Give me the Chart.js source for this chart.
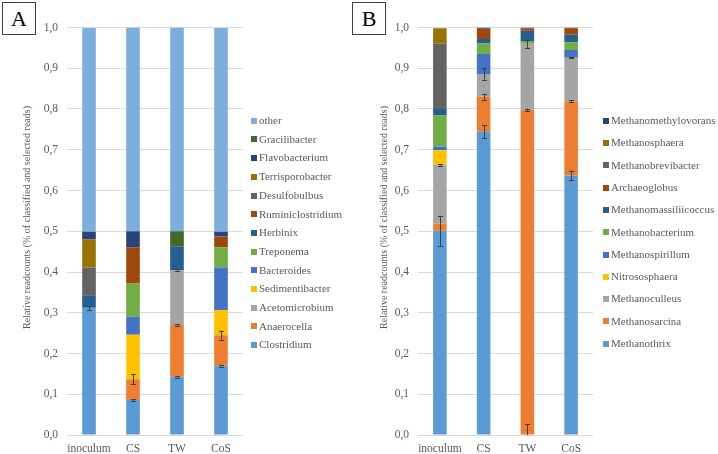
<!DOCTYPE html>
<html>
<head>
<meta charset="utf-8">
<script src="https://cdn.jsdelivr.net/npm/chart.js@4.4.1/dist/chart.umd.min.js"></script>
<style>
  html, body { margin:0; padding:0; background:#ffffff; }
  #wrap { position:relative; width:718px; height:454px; overflow:hidden; background:#fff; }
  canvas { position:absolute; top:0; }
  #cA { left:0; }
  #cB { left:359px; }
  .panel-label { position:absolute; top:2px; width:32px; height:31px; border:1px solid #404040;
    font-family:"Liberation Serif","Times New Roman",serif; font-size:22px; color:#000;
    text-align:center; line-height:32px; background:#fff; }
</style>
</head>
<body>
<div id="wrap">
  <canvas id="cA" width="359" height="454"></canvas>
  <canvas id="cB" width="359" height="454"></canvas>
  <div class="panel-label" style="left:2px;">A</div>
  <div class="panel-label" style="left:352px;">B</div>
</div>
<script>
// ---------- shared data ----------
const categories = ['inoculum', 'CS', 'TW', 'CoS'];
const yTickLabels = ['0,0','0,1','0,2','0,3','0,4','0,5','0,6','0,7','0,8','0,9','1,0'];
const yAxisTitle = 'Relative readcounts (% of classified and selected reads)';

// ---------- panel A (bacteria), stacked bottom -> top ----------
const seriesA = ['Clostridium','Anaerocella','Acetomicrobium','Sedimentibacter','Bacteroides','Treponema','Herbinix','Ruminiclostridium','Desulfobulbus','Terrisporobacter','Flavobacterium','Gracilibacter','other'];
const Clostridium       = [0.312, 0.086, 0.143, 0.170];
const Anaerocella       = [0.000, 0.051, 0.127, 0.075];
const Acetomicrobium    = [0.000, 0.000, 0.135, 0.000];
const Sedimentibacter   = [0.000, 0.109, 0.000, 0.062];
const Bacteroides       = [0.000, 0.044, 0.000, 0.104];
const Treponema         = [0.000, 0.082, 0.000, 0.050];
const Herbinix          = [0.031, 0.000, 0.057, 0.000];
const Ruminiclostridium = [0.000, 0.089, 0.000, 0.026];
const Desulfobulbus     = [0.068, 0.000, 0.000, 0.000];
const Terrisporobacter  = [0.069, 0.000, 0.000, 0.000];
const Flavobacterium    = [0.019, 0.039, 0.000, 0.012];
const Gracilibacter     = [0.000, 0.000, 0.038, 0.000];
const otherA            = [0.500, 0.500, 0.500, 0.500];
const valuesA = [Clostridium, Anaerocella, Acetomicrobium, Sedimentibacter, Bacteroides, Treponema, Herbinix, Ruminiclostridium, Desulfobulbus, Terrisporobacter, Flavobacterium, Gracilibacter, otherA];
// error bar half-widths (at the top of each segment)
const errClostridium    = [0.005, 0.002, 0.002, 0.002];
const errAnaerocella    = [0.000, 0.012, 0.002, 0.011];
const errAcetomicrobium = [0.000, 0.000, 0.002, 0.000];
const errorsA = [errClostridium, errAnaerocella, errAcetomicrobium];
const colorsA = ['#5B9BD5','#ED7D31','#A5A5A5','#FFC000','#4472C4','#70AD47','#255E91','#9E480E','#636363','#997300','#264478','#43682B','#7CAFDD'];

// ---------- panel B (archaea), stacked bottom -> top ----------
const seriesB = ['Methanothrix','Methanosarcina','Methanoculleus','Nitrososphaera','Methanospirillum','Methanobacterium','Methanomassiliicoccus','Archaeoglobus','Methanobrevibacter','Methanosphaera','Methanomethylovorans'];
const Methanothrix          = [0.501, 0.744, 0.000, 0.637];
const Methanosarcina        = [0.018, 0.086, 0.798, 0.182];
const Methanoculleus        = [0.144, 0.056, 0.162, 0.107];
const Nitrososphaera        = [0.036, 0.000, 0.000, 0.000];
const Methanospirillum      = [0.009, 0.049, 0.000, 0.019];
const Methanobacterium      = [0.076, 0.026, 0.007, 0.019];
const Methanomassiliicoccus = [0.016, 0.011, 0.025, 0.018];
const Archaeoglobus         = [0.000, 0.025, 0.006, 0.016];
const Methanobrevibacter    = [0.161, 0.000, 0.000, 0.000];
const Methanosphaera        = [0.037, 0.000, 0.000, 0.000];
const Methanomethylovorans  = [0.000, 0.003, 0.002, 0.002];
const valuesB = [Methanothrix, Methanosarcina, Methanoculleus, Nitrososphaera, Methanospirillum, Methanobacterium, Methanomassiliicoccus, Archaeoglobus, Methanobrevibacter, Methanosphaera, Methanomethylovorans];
const errMethanothrix   = [0.037, 0.016, 0.027, 0.012];
const errMethanosarcina = [0.000, 0.007, 0.003, 0.002];
const errMethanoculleus = [0.002, 0.014, 0.010, 0.002];
const errorsB = [errMethanothrix, errMethanosarcina, errMethanoculleus];
const colorsB = ['#5B9BD5','#ED7D31','#A5A5A5','#FFC000','#4472C4','#70AD47','#255E91','#9E480E','#636363','#997300','#264478'];

// ---------- styling ----------
const FONT = '"Liberation Serif", "Times New Roman", serif';
const TEXT = '#595959';
const GRID = '#D9D9D9';

function makePlugin(errors, legendX, legendY0, legendStep, titleX, titleY) {
  return {
    id: 'extras',
    afterDatasetsDraw(chart) {
      const ctx = chart.ctx;
      const ys = chart.scales.y;
      const area = chart.chartArea;
      ctx.save();
      ctx.beginPath();
      ctx.rect(area.left, area.top - 2, area.right - area.left, area.bottom - area.top + 2);
      ctx.clip();
      ctx.strokeStyle = '#404040';
      ctx.lineWidth = 1;
      errors.forEach((errArr, i) => {
        const meta = chart.getDatasetMeta(i);
        errArr.forEach((e, j) => {
          if (!e) return;
          let top = 0;
          for (let k = 0; k <= i; k++) top += chart.data.datasets[k].data[j];
          const x = Math.round(meta.data[j].x) + 0.5;
          const y1 = ys.getPixelForValue(top + e);
          const y2 = ys.getPixelForValue(top - e);
          ctx.beginPath();
          ctx.moveTo(x, y1); ctx.lineTo(x, y2);
          ctx.moveTo(x - 2.5, Math.round(y1) + 0.5); ctx.lineTo(x + 2.5, Math.round(y1) + 0.5);
          ctx.moveTo(x - 2.5, Math.round(y2) + 0.5); ctx.lineTo(x + 2.5, Math.round(y2) + 0.5);
          ctx.stroke();
        });
      });
      ctx.restore();
    },
    afterDraw(chart) {
      const ctx = chart.ctx;
      ctx.save();
      // legend (reversed order, like the reference)
      const ds = chart.data.datasets;
      ctx.font = '11px ' + FONT;
      ctx.textBaseline = 'middle';
      ctx.textAlign = 'left';
      for (let n = 0; n < ds.length; n++) {
        const d = ds[ds.length - 1 - n];
        const y = legendY0 + n * legendStep;
        ctx.fillStyle = d.backgroundColor;
        ctx.fillRect(legendX, Math.round(y - 3), 6, 6);
        ctx.fillStyle = TEXT;
        ctx.fillText(d.label, legendX + 8, y + 0.5);
      }
      // y axis title
      ctx.translate(titleX, titleY);
      ctx.rotate(-Math.PI / 2);
      ctx.font = '10px ' + FONT;
      ctx.textAlign = 'center';
      ctx.fillStyle = TEXT;
      ctx.fillText(yAxisTitle, 0, 0);
      ctx.restore();
    }
  };
}

function buildChart(canvasId, names, values, colors, errors, axisWidth, padRight, legendX, legendStep, titleX) {
  const datasets = names.map((n, i) => ({
    label: n,
    data: values[i],
    backgroundColor: colors[i],
    borderWidth: 0,
    categoryPercentage: 1.0,
    barPercentage: 0.31
  }));
  return new Chart(document.getElementById(canvasId), {
    type: 'bar',
    data: { labels: categories, datasets },
    options: {
      responsive: false,
      animation: false,
      devicePixelRatio: 1,
      layout: { padding: { left: 0, right: padRight, top: 27.5, bottom: 0 } },
      plugins: { legend: { display: false }, tooltip: { enabled: false } },
      scales: {
        x: {
          stacked: true,
          grid: { display: false, drawTicks: false },
          border: { display: false },
          ticks: { color: TEXT, font: { family: FONT, size: 11.5 }, padding: 7,
                   maxRotation: 0, minRotation: 0, autoSkip: false },
          afterFit(s) { s.height = 19; }
        },
        y: {
          stacked: true,
          min: 0, max: 1,
          grid: { color: GRID, lineWidth: 1, drawTicks: false },
          border: { display: false },
          ticks: {
            stepSize: 0.1,
            color: TEXT,
            font: { family: FONT, size: 11.5 },
            padding: 9,
            callback: (v) => yTickLabels[Math.round(v * 10)]
          },
          afterFit(s) { s.width = axisWidth; }
        }
      }
    },
    plugins: [makePlugin(errors, legendX, 120.7, legendStep, titleX, 217.5)]
  });
}

buildChart('cA', seriesA, valuesA, colorsA, errorsA, 67, 116, 251, 18.7, 27);
buildChart('cB', seriesB, valuesB, colorsB, errorsB, 59, 125, 244, 22.3, 25);
</script>
</body>
</html>
